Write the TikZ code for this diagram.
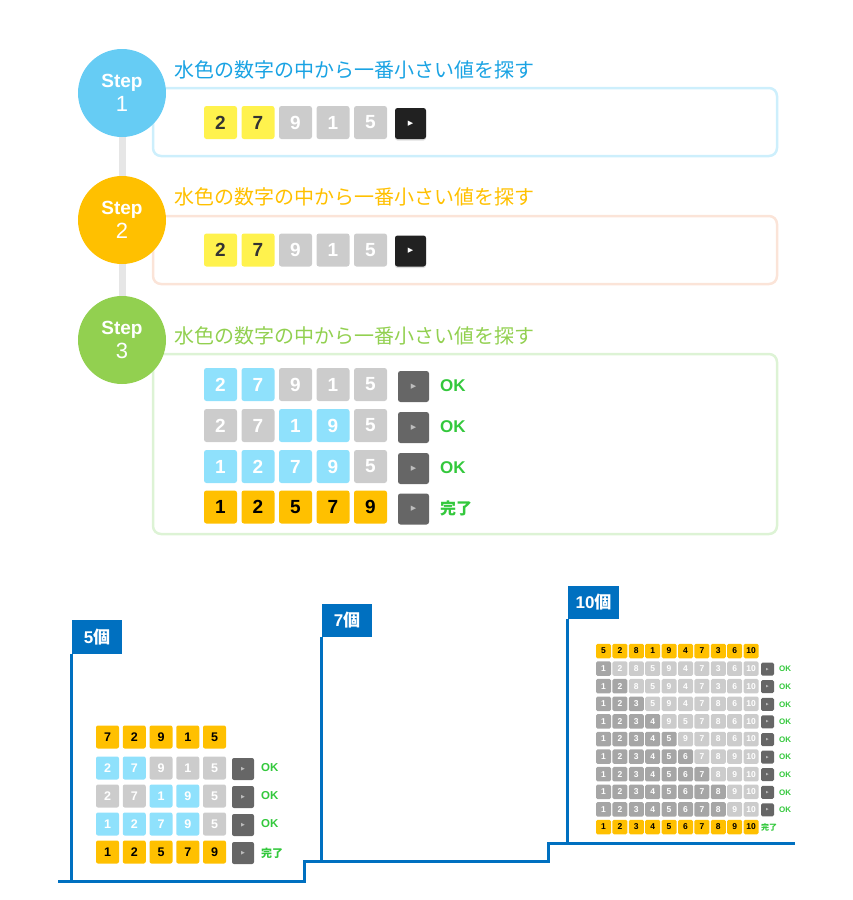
\documentclass[tikz,border=0pt]{standalone}
\usepackage{fontspec}
\setmainfont{Liberation Sans}
\newfontfamily\jpfont{Noto Sans CJK JP}
\newfontfamily\symfont{DejaVu Sans}
\usetikzlibrary{positioning,backgrounds,shadows}

\definecolor{stepblue}{HTML}{66CCF4}
\definecolor{stepamber}{HTML}{FFC000}
\definecolor{stepgreen}{HTML}{92D050}
\definecolor{titleblue}{HTML}{1AA3E3}
\definecolor{panelblue}{HTML}{CDEFFC}
\definecolor{panelpeach}{HTML}{FBE4D8}
\definecolor{panelgreen}{HTML}{DDF3D5}
\definecolor{railgray}{HTML}{E6E6E6}
\definecolor{okgreen}{HTML}{33C83C}
\definecolor{boxblue}{HTML}{0070C0}
\definecolor{fyel}{HTML}{FFF24D}
\definecolor{tyel}{HTML}{333333}
\definecolor{fgry}{HTML}{CCCCCC}
\colorlet{tgry}{white}
\definecolor{fblu}{HTML}{8FE1FC}
\colorlet{tblu}{white}
\definecolor{forg}{HTML}{FFC000}
\colorlet{torg}{black}
\definecolor{fdgr}{HTML}{A6A6A6}
\colorlet{tdgr}{white}
\definecolor{btngray}{HTML}{666666}
\definecolor{trigray}{HTML}{BDBDBD}

\tikzset{
  cell/.style={rectangle, rounded corners=2.5pt, inner sep=0pt},
  big/.style={minimum size=33pt, font=\bfseries\fontsize{19}{19}\selectfont},
  mid/.style={minimum size=23pt, rounded corners=2pt, font=\bfseries\fontsize{12.5}{12.5}\selectfont},
  tiny/.style={minimum width=15pt, minimum height=14.5pt, rounded corners=1.5pt, font=\bfseries\fontsize{8.5}{8.5}\selectfont},
  btn/.style={rectangle, rounded corners=2.5pt, inner sep=0pt, fill=btngray, text=trigray},
  darkbtn/.style={btn, fill=black!87, text=white, drop shadow={opacity=0.25, shadow xshift=0pt, shadow yshift=-1.5pt}},
  bigbtn/.style={minimum size=31pt, font=\symfont\fontsize{7}{7}\selectfont},
  midbtn/.style={minimum size=22pt, rounded corners=2pt, font=\symfont\fontsize{5}{5}\selectfont},
  tinybtn/.style={minimum size=13pt, rounded corners=1.5pt, font=\symfont\fontsize{3.5}{3.5}\selectfont},
  stepc/.style={circle, minimum size=88pt, inner sep=0pt, text=white, align=center, font=\fontsize{19}{24}\selectfont},
  title/.style={anchor=west, inner sep=0pt, font=\jpfont\fontsize{20}{20}\selectfont},
  panel/.style={rectangle, rounded corners=8pt, line width=2.5pt, minimum width=624pt},
  ok/.style={anchor=west, inner sep=0pt, text=okgreen},
  okbig/.style={ok, font=\bfseries\fontsize{17}{17}\selectfont},
  okmid/.style={ok, font=\bfseries\fontsize{11.5}{11.5}\selectfont},
  oktiny/.style={ok, font=\bfseries\fontsize{8}{8}\selectfont},
  count/.style={rectangle, fill=boxblue, text=white, inner sep=0pt, minimum height=33.5pt, minimum width=50pt, font=\bfseries\fontsize{17}{17}\selectfont},
  stair/.style={draw=boxblue, line width=3pt}
}

\begin{document}
\begin{tikzpicture}[x=1pt, y=-1pt]
  \useasboundingbox (0,0) rectangle (853,900);

  \node[panel, draw=panelblue, minimum height=68pt] (p1) at (465,122) {};
  \node[panel, draw=panelpeach, minimum height=68pt] (p2) at (465,250) {};
  \node[panel, draw=panelgreen, minimum height=180pt] (p3) at (465,444) {};

  \node[stepc, fill=stepblue] (s1) at (122,93) {\bfseries Step\\\fontsize{22}{22}\selectfont 1};
  \node[stepc, fill=stepamber] (s2) at (122,220) {\bfseries Step\\\fontsize{22}{22}\selectfont 2};
  \node[stepc, fill=stepgreen] (s3) at (122,340) {\bfseries Step\\\fontsize{22}{22}\selectfont 3};
  \begin{scope}[on background layer]
    \draw[railgray, line width=7pt] (s1) -- (s3);
  \end{scope}

  \node[title, text=titleblue] (t1) at (174,70) {水色の数字の中から一番小さい値を探す};
  \node[title, text=stepamber] (t2) at (174,197) {水色の数字の中から一番小さい値を探す};
  \node[title, text=stepgreen] (t3) at (174,336) {水色の数字の中から一番小さい値を探す};

  % step 1 and 2
  \foreach \n/\c [count=\i from 0] in {2/yel,7/yel,9/gry,1/gry,5/gry}{
    \node[cell, big, fill=f\c, text=t\c] (a\i) at (220.5+37.5*\i,122.5) {\n};
    \node[cell, big, fill=f\c, text=t\c] (b\i) at (220.5+37.5*\i,250) {\n};
  }
  \node[darkbtn, bigbtn] (abtn) at (410.5,123.5) {▶};
  \node[darkbtn, bigbtn] (bbtn) at (410.5,251) {▶};

  % step 3
  \foreach \r/\y/\row/\txt in {1/384.5/{2/blu,7/blu,9/gry,1/gry,5/gry}/OK,
                               2/425.5/{2/gry,7/gry,1/blu,9/blu,5/gry}/OK,
                               3/466.5/{1/blu,2/blu,7/blu,9/blu,5/gry}/OK}{
    \foreach \n/\c [count=\i from 0] in \row
      \node[cell, big, fill=f\c, text=t\c] (c\r-\i) at (220.5+37.5*\i,\y) {\n};
    \node[btn, bigbtn] (cbtn\r) at (413.5,\y+2) {▶};
    \node[okbig] (cok\r) at (440,\y+1) {\txt};
  }
  \foreach \n [count=\i from 0] in {1,2,5,7,9}
    \node[cell, big, fill=forg, text=torg] (c4-\i) at (220.5+37.5*\i,507) {\n};
  \node[btn, bigbtn] (cbtn4) at (413.5,509) {▶};
  \node[okbig, font=\jpfont\bfseries\fontsize{16}{16}\selectfont] (cok4) at (440,508) {完了};

  % staircase
  \node[count] (k5) at (97,637) {5\jpfont 個};
  \node[count] (k7) at (347,620.5) {7\jpfont 個};
  \node[count, minimum width=51pt] (k10) at (593.5,602.5) {10\jpfont 個};
  \coordinate (g0) at (58,881);
  \coordinate (g1) at (304,881);
  \coordinate (g2) at (304,861);
  \coordinate (g3) at (548,861);
  \coordinate (g4) at (548,843);
  \coordinate (g5) at (795,843);
  \draw[stair] (g0) -- (g1) -- (g2) -- (g3) -- (g4) -- (g5);
  \draw[stair] (k5.south west) -- (k5.south west |- g0);
  \draw[stair] (k7.south west) -- (k7.south west |- g2);
  \draw[stair] (k10.south west) -- (k10.south west |- g4);

  % five
  \foreach \n [count=\i from 0] in {7,2,9,1,5}
    \node[cell, mid, fill=forg, text=torg] (f0-\i) at (107.5+26.75*\i,737) {\n};
  \foreach \r/\y/\row in {1/768/{2/blu,7/blu,9/gry,1/gry,5/gry},
                          2/796/{2/gry,7/gry,1/blu,9/blu,5/gry},
                          3/824/{1/blu,2/blu,7/blu,9/blu,5/gry}}{
    \foreach \n/\c [count=\i from 0] in \row
      \node[cell, mid, fill=f\c, text=t\c] (f\r-\i) at (107.5+26.75*\i,\y) {\n};
    \node[btn, midbtn] (fbtn\r) at (243,\y+1) {▶};
    \node[okmid] (fok\r) at (261,\y) {OK};
  }
  \foreach \n [count=\i from 0] in {1,2,5,7,9}
    \node[cell, mid, fill=forg, text=torg] (f4-\i) at (107.5+26.75*\i,852) {\n};
  \node[btn, midbtn] (fbtn4) at (243,853) {▶};
  \node[okmid, font=\jpfont\bfseries\fontsize{11}{11}\selectfont] (fok4) at (261,853) {完了};

  % ten
  \foreach \n [count=\i] in {5,2,8,1,9,4,7,3,6,10}
    \node[cell, tiny, fill=forg, text=torg] (z0-\i) at (587.1+16.4*\i,651) {\n};
  \foreach \r/\k/\row in {1/1/{1,2,8,5,9,4,7,3,6,10},
                          2/2/{1,2,8,5,9,4,7,3,6,10},
                          3/3/{1,2,3,5,9,4,7,8,6,10},
                          4/4/{1,2,3,4,9,5,7,8,6,10},
                          5/5/{1,2,3,4,5,9,7,8,6,10},
                          6/6/{1,2,3,4,5,6,7,8,9,10},
                          7/7/{1,2,3,4,5,6,7,8,9,10},
                          8/8/{1,2,3,4,5,6,7,8,9,10},
                          9/8/{1,2,3,4,5,6,7,8,9,10}}{
    \foreach \n [count=\i] in \row {
      \ifnum\i>\k \def\c{gry}\else\def\c{dgr}\fi
      \node[cell, tiny, fill=f\c, text=t\c] (z\r-\i) at (587.1+16.4*\i,651+17.6*\r) {\n};
    }
    \node[btn, tinybtn] (zbtn\r) at (767.5,651.5+17.6*\r) {▶};
    \node[oktiny] (zok\r) at (779,651.5+17.6*\r) {OK};
  }
  \foreach \n [count=\i] in {1,2,3,4,5,6,7,8,9,10}
    \node[cell, tiny, fill=forg, text=torg] (z10-\i) at (587.1+16.4*\i,827) {\n};
  \node[oktiny, font=\jpfont\bfseries\fontsize{8}{8}\selectfont] (zok10) at (761,827) {完了};
\end{tikzpicture}
\end{document}
